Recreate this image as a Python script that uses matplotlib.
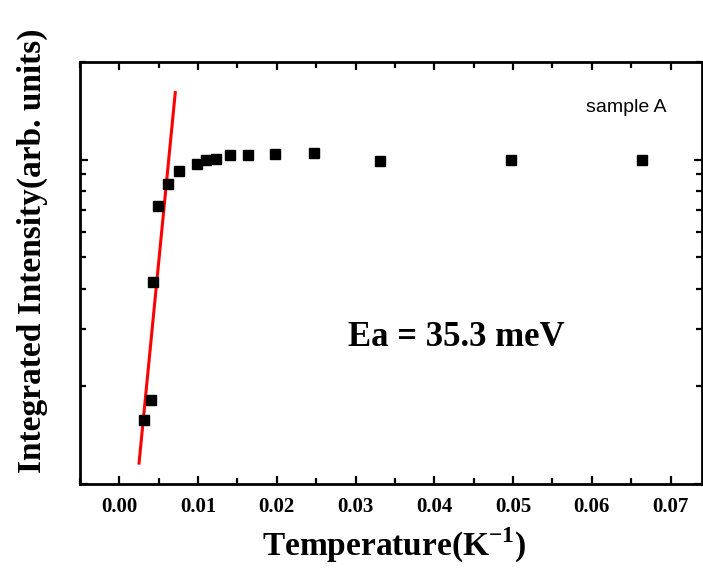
import matplotlib
matplotlib.use("Agg")
import matplotlib.pyplot as plt
from matplotlib.ticker import MultipleLocator, LogLocator, NullFormatter

# Data (inverse temperature, K^-1) and integrated intensity (arb. units)
inv_T = [0.00313, 0.00398, 0.00423, 0.00495, 0.00622, 0.00758, 0.00983,
         0.01101, 0.01228, 0.01406, 0.01639, 0.01978, 0.02478, 0.03313,
         0.04975, 0.06640]
intensity = [0.158, 0.181, 0.420, 0.718, 0.841, 0.920, 0.972,
             1.000, 1.007, 1.031, 1.031, 1.044, 1.049, 0.988,
             1.000, 1.000]

# Arrhenius fit line endpoints
fit_x = [0.0025, 0.0071]
fit_y = [0.116, 1.61]

x_ticks = [0.00, 0.01, 0.02, 0.03, 0.04, 0.05, 0.06, 0.07]
x_tick_labels = ["0.00", "0.01", "0.02", "0.03", "0.04", "0.05", "0.06", "0.07"]

plt.rcParams['mathtext.fontset'] = 'custom'
plt.rcParams['mathtext.bf'] = 'Liberation Serif:bold'
plt.rcParams['mathtext.rm'] = 'Liberation Serif'

fig = plt.figure(figsize=(7.03, 5.69), dpi=100)
ax = fig.add_axes([80/703, (569-484)/569, 622/703, 422/569])

ax.plot(fit_x, fit_y, color='#ff0000', lw=2.2, zorder=2)
ax.plot(inv_T, intensity, ls='none', marker='s', ms=7, color='black', zorder=3)

ax.set_yscale('log')
ax.set_xlim(-0.005, 0.074)
ax.set_ylim(0.1, 2.0)

ax.set_xticks(x_ticks)
ax.set_xticklabels(x_tick_labels, fontfamily='Liberation Serif',
                   fontweight='bold', fontsize=15)
ax.xaxis.set_minor_locator(MultipleLocator(0.005))
ax.yaxis.set_major_locator(LogLocator(base=10))
ax.yaxis.set_minor_locator(LogLocator(base=10, subs=range(2, 10)))
ax.yaxis.set_major_formatter(NullFormatter())
ax.yaxis.set_minor_formatter(NullFormatter())

ax.tick_params(which='both', direction='in', top=True, right=True, width=1.6)
ax.tick_params(which='major', length=6)
ax.tick_params(which='minor', length=4)
ax.tick_params(axis='x', pad=9)
for s in ax.spines.values():
    s.set_linewidth(2)

ax.set_xlabel(r'Temperature(K$^{\mathbf{-1}}$)', fontfamily='Liberation Serif',
              fontweight='bold', fontsize=24)
ax.xaxis.set_label_coords(0.505, -0.098)
ax.set_ylabel('Integrated Intensity(arb. units)', fontfamily='Liberation Serif',
              fontweight='bold', fontsize=24)
ax.yaxis.set_label_coords(-0.052, 0.552)

ax.text(0.605, 0.347, 'Ea = 35.3 meV', transform=ax.transAxes, ha='center',
        va='center', fontfamily='Liberation Serif', fontweight='bold', fontsize=25)
ax.text(0.879, 0.893, 'sample A', transform=ax.transAxes, ha='center',
        va='center', fontfamily='Liberation Sans', fontsize=14)

fig.savefig('out.png', dpi=100)
